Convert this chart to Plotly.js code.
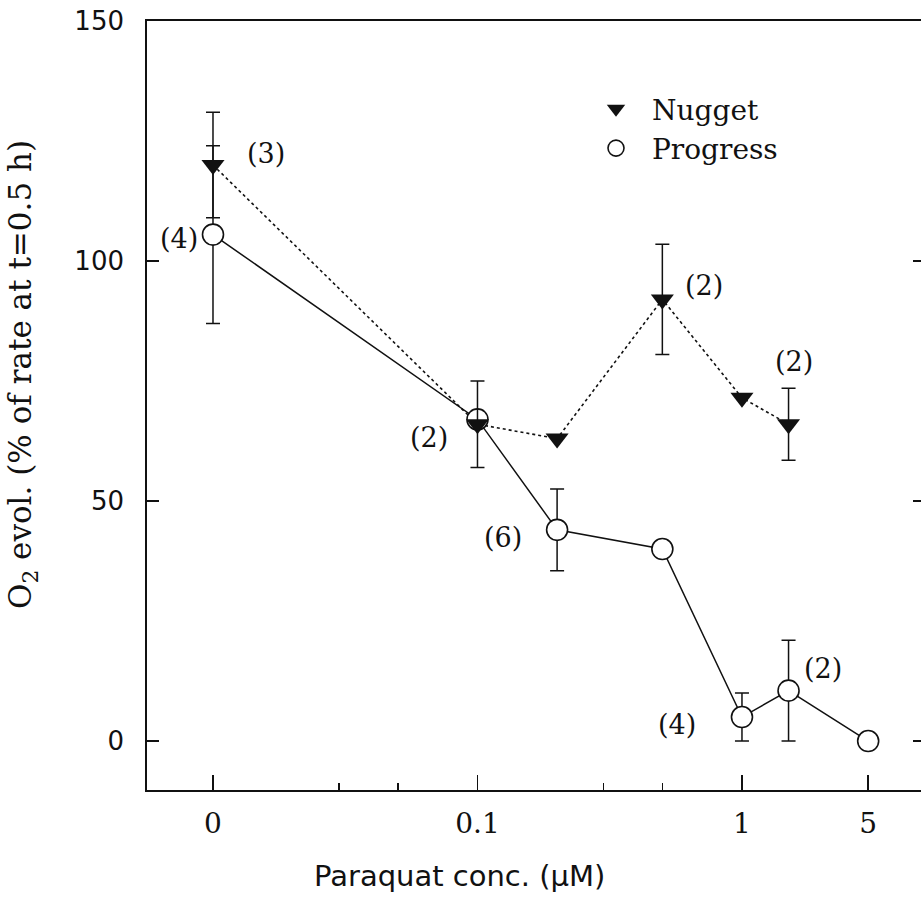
<!DOCTYPE html>
<html>
<head>
<meta charset="utf-8">
<script src="https://cdn.plot.ly/plotly-3.0.1.min.js"></script>
<style>
html, body { margin: 0; padding: 0; overflow: hidden; background: #fff; }
#chart { width: 930px; height: 911px; }
</style>
</head>
<body>
<div id="chart"></div>
<script>
// ---- data (x = position on the concentration axis, µM; "0" is shown at 0.01, "5" at 3) ----
const tickPositions = [0.01, 0.1, 1, 3];
const tickLabels = ["0", "0.1", "1", "5"];
const minorTickPositions = [0.03, 0.05, 0.3, 0.5, 3];
const topTickPositions = [0.01, 0.1, 1];

const nuggetX = [0.01, 0.1, 0.2, 0.5, 1, 1.5];
const nuggetY = [120, 66, 63, 92, 71.5, 66];
const nuggetErr = [11, 9, NaN, 11.5, NaN, 7.5];

const progressX = [0.01, 0.1, 0.2, 0.5, 1, 1.5, 3];
const progressY = [105.5, 67, 44, 40, 5, 10.5, 0];
const progressErr = [18.5, NaN, 8.5, NaN, 5, 10.5, NaN];

const nLabels = ["(3)", "(4)", "(2)", "(6)", "(2)", "(2)", "(4)", "(2)"];
const nLabelLogX = [-1.798, -2.13, -1.185, -0.905, -0.142, 0.198, -0.244, 0.308];
const nLabelY = [122.3, 104.6, 63.3, 42.3, 95, 79, 3.5, 15.2];

const ink = '#111';
const serif = 'DejaVu Serif, serif';
const sans = 'DejaVu Sans, sans-serif';

const traces = [
  { x: progressX, y: progressY, type: 'scatter', mode: 'lines', showlegend: false,
    line: { color: ink, width: 1.5 }, hoverinfo: 'skip' },
  { x: nuggetX, y: nuggetY, type: 'scatter', mode: 'lines', showlegend: false,
    line: { color: ink, width: 1.6, dash: 'dot' }, hoverinfo: 'skip' },
  { x: progressX, y: progressY, type: 'scatter', mode: 'markers', name: 'Progress', legendrank: 2,
    marker: { symbol: 'circle', size: 21, color: '#fff', line: { color: ink, width: 1.6 } },
    error_y: { type: 'data', array: progressErr, visible: true, color: ink, thickness: 1.5, width: 7 } },
  { x: nuggetX, y: nuggetY, type: 'scatter', mode: 'markers', name: 'Nugget', legendrank: 1,
    marker: { symbol: 'triangle-down', size: 20, color: ink, line: { width: 0 } },
    error_y: { type: 'data', array: nuggetErr, visible: true, color: ink, thickness: 1.5, width: 7 } }
];

const annotations = nLabels.map((t, i) => ({
  x: nLabelLogX[i], y: nLabelY[i], xref: 'x', yref: 'y', text: t, showarrow: false,
  xanchor: 'center', yanchor: 'middle', font: { family: serif, size: 27, color: ink }
}));
annotations.push({
  xref: 'paper', yref: 'paper', x: (459 - 147) / 778, y: (790 - 876) / 769,
  xanchor: 'center', yanchor: 'middle', showarrow: false,
  text: 'Paraquat conc. (μM)', font: { family: sans, size: 29, color: ink }
});
annotations.push({
  xref: 'paper', yref: 'paper', x: (23 - 147) / 778, y: (790 - 375) / 769,
  xanchor: 'center', yanchor: 'middle', showarrow: false, textangle: -90,
  text: 'O<sub>2</sub> evol. (% of rate at t=0.5 h)', font: { family: serif, size: 31, color: ink }
});

const xRange = [-2.2495, 0.692];

const layout = {
  width: 930, height: 911,
  margin: { l: 147, r: 5, t: 21, b: 121 },
  paper_bgcolor: '#fff', plot_bgcolor: '#fff',
  showlegend: true,
  legend: { x: (580 - 147) / 778, y: (790 - 84) / 769, xanchor: 'left', yanchor: 'top',
    bgcolor: 'rgba(0,0,0,0)', borderwidth: 0, itemwidth: 62,
    font: { family: serif, size: 28, color: ink }, tracegroupgap: 0 },
  xaxis: {
    type: 'log', range: xRange, autorange: false,
    tickmode: 'array', tickvals: tickPositions, ticktext: tickLabels,
    ticks: 'inside', ticklen: 15, tickwidth: 1.5, tickcolor: ink,
    minor: { tickmode: 'array', tickvals: minorTickPositions, ticks: 'inside', ticklen: 7, tickwidth: 1.5, tickcolor: ink },
    showline: true, linecolor: ink, linewidth: 1.8, mirror: true,
    showgrid: false, zeroline: false, ticklabelstandoff: 8,
    tickfont: { family: serif, size: 28, color: ink }
  },
  xaxis2: {
    type: 'log', range: xRange, autorange: false, overlaying: 'x', side: 'top', anchor: 'y',
    tickmode: 'array', tickvals: topTickPositions,
    ticks: 'inside', ticklen: 13, tickwidth: 1.5, tickcolor: ink,
    showticklabels: false, showline: false, showgrid: false, zeroline: false
  },
  yaxis: {
    range: [-10.2, 150], autorange: false,
    tickmode: 'array', tickvals: [0, 50, 100, 150],
    ticks: 'inside', ticklen: 12, tickwidth: 1.5, tickcolor: ink,
    showline: true, linecolor: ink, linewidth: 1.8, mirror: 'ticks',
    showgrid: false, zeroline: false, ticklabelstandoff: 16,
    tickfont: { family: sans, size: 26, color: ink }
  },
  annotations: annotations
};

Plotly.newPlot('chart', traces, layout, { displayModeBar: false, staticPlot: true });
</script>
</body>
</html>
